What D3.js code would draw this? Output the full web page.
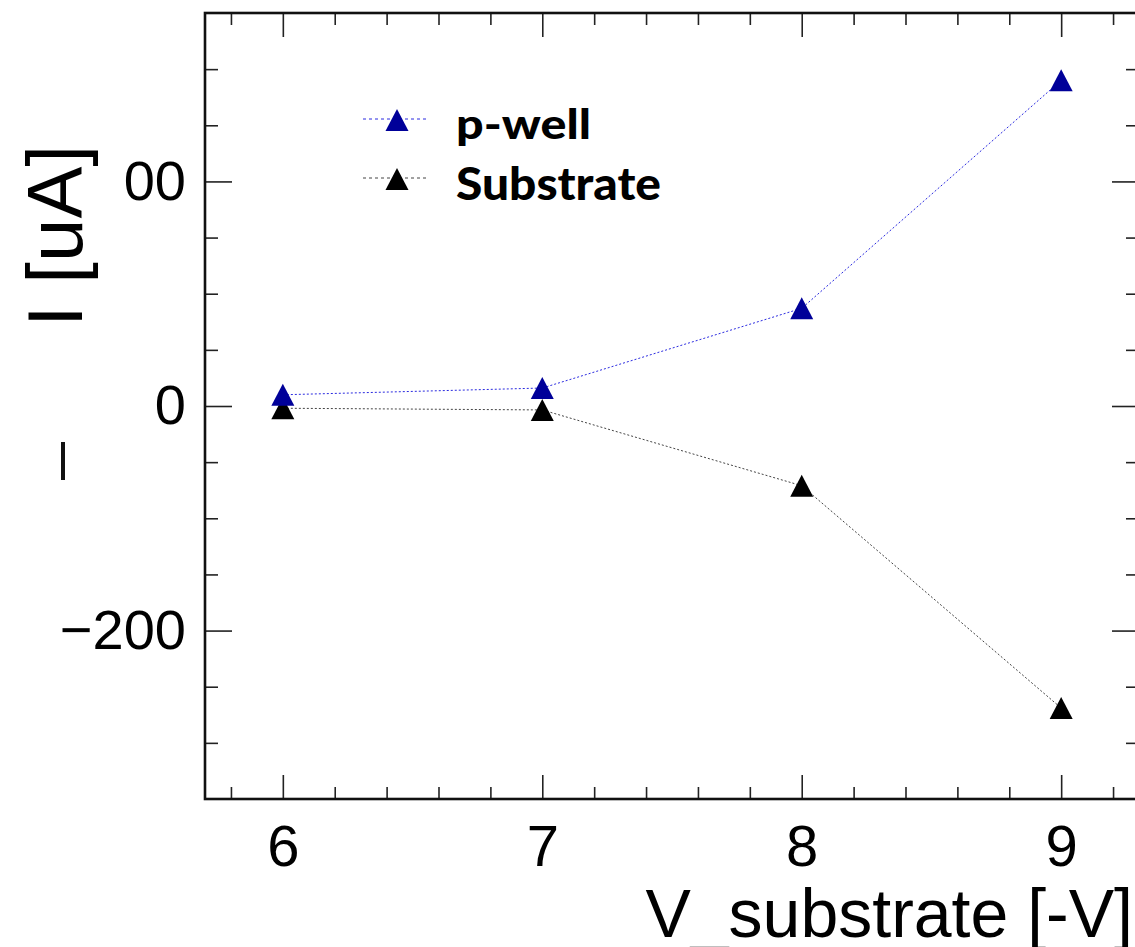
<!DOCTYPE html>
<html>
<head>
<meta charset="utf-8">
<script src="https://cdn.jsdelivr.net/npm/d3@7"></script>
<style>
  body { margin: 0; background: #fff; }
  svg { display: block; }
</style>
</head>
<body>
<script>
// data
var voltages = [6, 7, 8, 9];
var pwell = [10, 16, 87, 290];
var substrate = [-2, -3.5, -71, -269];
var xMajor = [6, 7, 8, 9];
var yMajor = [-200, 0, 200];
var seriesNames = ["p-well", "Substrate"];

var W = 1135, H = 947;
var plotL = 205, plotR = 1139, plotT = 13, plotB = 799;

var x = d3.scaleLinear().domain([5.7, 9.3]).range([plotL, plotR]);
var y = d3.scaleLinear().domain([-350, 350]).range([plotB, plotT]);

var svg = d3.select("body").append("svg")
    .attr("width", W)
    .attr("height", H);

svg.append("rect").attr("width", W).attr("height", H).attr("fill", "#fff");

// minor ticks
var xMinor = d3.range(5.8, 9.3, 0.2).filter(function(v) {
  return Math.abs(v - Math.round(v)) > 0.01;
});
var yMinor = d3.range(-300, 350, 50).filter(function(v) { return v % 200 != 0; });

function noText(g) { g.selectAll("text").remove(); g.select(".domain").remove(); }

// bottom axis
var gx = svg.append("g").attr("transform", "translate(0," + plotB + ")");
gx.call(d3.axisBottom(x).tickValues(xMajor).tickSize(-24).tickPadding(26).tickFormat(d3.format("d")));
gx.select(".domain").remove();
gx.selectAll("text").attr("font-size", 58).attr("font-family", "Liberation Sans, Arial, sans-serif").attr("fill", "#000");
svg.append("g").attr("transform", "translate(0," + plotB + ")")
  .call(d3.axisBottom(x).tickValues(xMinor).tickSize(-12)).call(noText);

// top axis
svg.append("g").attr("transform", "translate(0," + plotT + ")")
  .call(d3.axisTop(x).tickValues(xMajor).tickSize(-24)).call(noText);
svg.append("g").attr("transform", "translate(0," + plotT + ")")
  .call(d3.axisTop(x).tickValues(xMinor).tickSize(-12)).call(noText);

// left axis
var gy = svg.append("g").attr("transform", "translate(" + plotL + ",0)");
gy.call(d3.axisLeft(y).tickValues(yMajor).tickSize(-27).tickPadding(19));
gy.select(".domain").remove();
gy.selectAll("text").attr("font-size", 56).attr("font-family", "Liberation Sans, Arial, sans-serif").attr("fill", "#000");
svg.append("g").attr("transform", "translate(" + plotL + ",0)")
  .call(d3.axisLeft(y).tickValues(yMinor).tickSize(-13)).call(noText);

// right axis
svg.append("g").attr("transform", "translate(" + plotR + ",0)")
  .call(d3.axisRight(y).tickValues(yMajor).tickSize(-27)).call(noText);
svg.append("g").attr("transform", "translate(" + plotR + ",0)")
  .call(d3.axisRight(y).tickValues(yMinor).tickSize(-13)).call(noText);

svg.selectAll(".tick line").attr("stroke", "#222").attr("stroke-width", 1.6);

// frame
svg.append("rect")
  .attr("x", plotL).attr("y", plotT)
  .attr("width", plotR - plotL).attr("height", plotB - plotT)
  .attr("fill", "none").attr("stroke", "#111").attr("stroke-width", 2.6);

// triangle marker
var tri = "M0,-11L11.5,11L-11.5,11Z";

var series = [
  { name: seriesNames[0], values: pwell, marker: "#000099", line: "#2a2ae0" },
  { name: seriesNames[1], values: substrate, marker: "#000", line: "#444" }
];

var line = d3.line()
  .x(function(d) { return x(d[0]); })
  .y(function(d) { return y(d[1]); });

series.forEach(function(s) {
  var pts = voltages.map(function(v, i) { return [v, s.values[i]]; });
  svg.append("path")
    .datum(pts)
    .attr("d", line)
    .attr("fill", "none")
    .attr("stroke", s.line)
    .attr("stroke-width", 1)
    .attr("stroke-dasharray", "2,2");
});

// draw substrate markers first so p-well sits on top like the original
[series[1], series[0]].forEach(function(s) {
  svg.selectAll(null)
    .data(voltages.map(function(v, i) { return [v, s.values[i]]; }))
    .enter().append("path")
    .attr("d", tri)
    .attr("transform", function(d) { return "translate(" + x(d[0]) + "," + y(d[1]) + ")"; })
    .attr("fill", s.marker);
});

// legend
var legY = [119, 178];
var legSize = [41, 46];
var legBase = [139, 200];
var legLen = [135, 205];
series.forEach(function(s, i) {
  svg.append("line")
    .attr("x1", 363).attr("x2", 427)
    .attr("y1", legY[i]).attr("y2", legY[i])
    .attr("stroke", s.line).attr("stroke-width", 1)
    .attr("stroke-dasharray", "3,3");
  svg.append("path")
    .attr("d", tri)
    .attr("transform", "translate(397," + (legY[i] + 1) + ")")
    .attr("fill", s.marker);
  svg.append("text")
    .attr("x", 456).attr("y", legBase[i])
    .attr("font-family", "Lato, sans-serif")
    .attr("font-weight", 900)
    .attr("font-size", legSize[i])
    .attr("textLength", legLen[i])
    .attr("lengthAdjust", "spacingAndGlyphs")
    .attr("fill", "#000")
    .text(s.name);
});

// x title
svg.append("text")
  .attr("x", 1133).attr("y", 937)
  .attr("text-anchor", "end")
  .attr("font-family", "Liberation Sans, Arial, sans-serif")
  .attr("font-size", 68)
  .attr("fill", "#000")
  .text("V_substrate [-V]");

// y title on a white patch (hides the "2" of 200 as in the original)
svg.append("rect")
  .attr("x", 18).attr("y", 140).attr("width", 105).attr("height", 200)
  .attr("fill", "#fff");
svg.append("text")
  .attr("transform", "translate(82,327) rotate(-90)")
  .attr("font-family", "Liberation Sans, Arial, sans-serif")
  .attr("font-size", 78)
  .attr("fill", "#000")
  .text("I [uA]");

// leftover stroke at the left edge
svg.append("line")
  .attr("x1", 63).attr("x2", 63).attr("y1", 442).attr("y2", 480)
  .attr("stroke", "#111").attr("stroke-width", 4);
</script>
</body>
</html>
